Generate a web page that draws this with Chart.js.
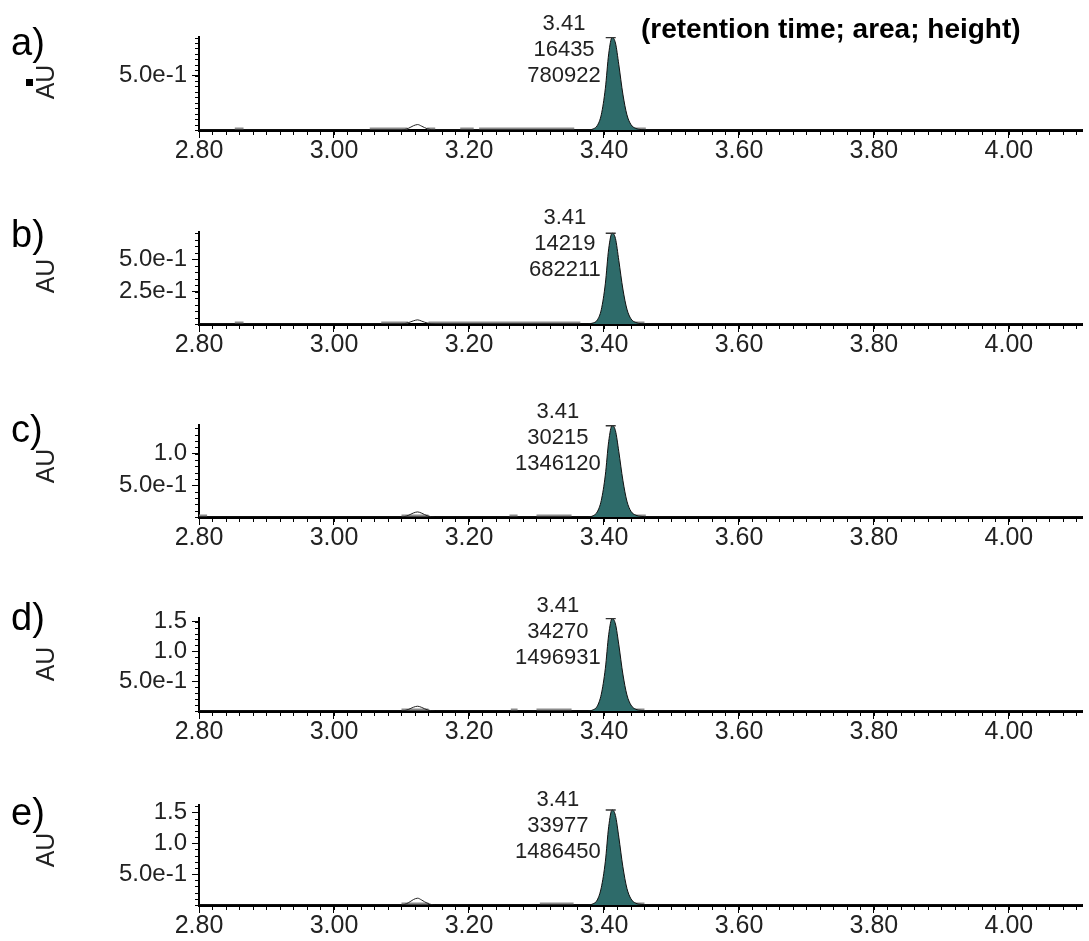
<!DOCTYPE html>
<html>
<head>
<meta charset="utf-8">
<script src="https://cdn.jsdelivr.net/npm/chart.js@4.4.1/dist/chart.umd.min.js"></script>
<style>
  body { margin: 0; background: #fff; width: 1089px; height: 941px; overflow: hidden; position: relative; }
  canvas { position: absolute; left: 0; }
</style>
</head>
<body>
<canvas id="pa" width="1089" height="194" style="top:0px"></canvas>
<canvas id="pb" width="1089" height="194" style="top:194px"></canvas>
<canvas id="pc" width="1089" height="194" style="top:388px"></canvas>
<canvas id="pd" width="1089" height="194" style="top:582px"></canvas>
<canvas id="pe" width="1089" height="165" style="top:776px"></canvas>
<script>
const FONT = 'Arial, "Liberation Sans", sans-serif';
const TEAL = '#2e6b6a';

// x axis (retention time, min)
const X_MIN = 2.80;
const X_MAX = 4.109;
const xTickValues = [2.8, 3.0, 3.2, 3.4, 3.6, 3.8, 4.0];
const xTickLabels = ['2.80', '3.00', '3.20', '3.40', '3.60', '3.80', '4.00'];

// peak annotations
const panelLetters = ['a)', 'b)', 'c)', 'd)', 'e)'];
const retTimes = ['3.41', '3.41', '3.41', '3.41', '3.41'];
const peakAreas = ['16435', '14219', '30215', '34270', '33977'];
const peakHeights = ['780922', '682211', '1346120', '1496931', '1486450'];

// y axes (AU)
const yTicksA = [0.5];
const yLabelsA = ['5.0e-1'];
const yTicksB = [0.25, 0.5];
const yLabelsB = ['2.5e-1', '5.0e-1'];
const yTicksC = [0.5, 1.0];
const yLabelsC = ['5.0e-1', '1.0'];
const yTicksD = [0.5, 1.0, 1.5];
const yLabelsD = ['5.0e-1', '1.0', '1.5'];
const yTicksE = [0.5, 1.0, 1.5];
const yLabelsE = ['5.0e-1', '1.0', '1.5'];
const yMaxes = [0.855, 0.71, 1.45, 1.56, 1.62];
const yMinorSteps = [0.05, 0.05, 0.1, 0.1, 0.1];

// main peak at 3.41 min
const peakTimes = [3.376, 3.384, 3.390, 3.396, 3.402, 3.407, 3.412, 3.417, 3.422, 3.428, 3.434, 3.440, 3.447, 3.455, 3.465];
const peakA = [0, 0.01, 0.04, 0.14, 0.38, 0.70, 0.85, 0.80, 0.60, 0.33, 0.14, 0.05, 0.015, 0.004, 0];
const peakB = [0, 0.008, 0.03, 0.11, 0.31, 0.58, 0.70, 0.66, 0.49, 0.27, 0.115, 0.04, 0.012, 0.003, 0];
const peakC = [0, 0.02, 0.08, 0.26, 0.66, 1.19, 1.44, 1.36, 1.03, 0.58, 0.25, 0.09, 0.03, 0.01, 0];
const peakD = [0, 0.02, 0.08, 0.28, 0.71, 1.28, 1.55, 1.46, 1.11, 0.62, 0.27, 0.10, 0.03, 0.01, 0];
const peakE = [0, 0.02, 0.08, 0.28, 0.70, 1.27, 1.54, 1.45, 1.10, 0.62, 0.27, 0.10, 0.03, 0.01, 0];

// small bump near 3.12 min
const bumpTimes = [3.100, 3.110, 3.118, 3.124, 3.130, 3.138, 3.150];
const bumpA = [0, 0.015, 0.04, 0.05, 0.035, 0.012, 0];
const bumpB = [0, 0.01, 0.025, 0.032, 0.022, 0.008, 0];
const bumpC = [0, 0.025, 0.065, 0.08, 0.06, 0.02, 0];
const bumpD = [0, 0.025, 0.065, 0.08, 0.06, 0.02, 0];
const bumpE = [0, 0.035, 0.09, 0.11, 0.08, 0.03, 0];

// grey integration baseline segments [start, end]
const segA = [[2.853, 2.866], [3.053, 3.109], [3.138, 3.150], [3.187, 3.207], [3.215, 3.356], [3.422, 3.462]];
const segB = [[2.853, 2.866], [3.070, 3.110], [3.140, 3.365], [3.425, 3.460]];
const segC = [[2.800, 2.812], [3.100, 3.140], [3.260, 3.272], [3.300, 3.352], [3.443, 3.462]];
const segD = [[3.100, 3.140], [3.262, 3.272], [3.300, 3.352], [3.440, 3.460]];
const segE = [[3.100, 3.140], [3.305, 3.355], [3.420, 3.460]];
const segLevels = [0.014, 0.012, 0.024, 0.026, 0.025];

const panels = [
  { id: 'pa', yTicks: yTicksA, yLabels: yLabelsA, peak: peakA, bump: bumpA, seg: segA, padTop: 37, base: 130, letterY: 45, auY: 82 },
  { id: 'pb', yTicks: yTicksB, yLabels: yLabelsB, peak: peakB, bump: bumpB, seg: segB, padTop: 38, base: 130, letterY: 43, auY: 82 },
  { id: 'pc', yTicks: yTicksC, yLabels: yLabelsC, peak: peakC, bump: bumpC, seg: segC, padTop: 37, base: 129, letterY: 44, auY: 78 },
  { id: 'pd', yTicks: yTicksD, yLabels: yLabelsD, peak: peakD, bump: bumpD, seg: segD, padTop: 36, base: 129, letterY: 38, auY: 82 },
  { id: 'pe', yTicks: yTicksE, yLabels: yLabelsE, peak: peakE, bump: bumpE, seg: segE, padTop: 29, base: 129, letterY: 39, auY: 74 }
];

const minorTicks = {
  id: 'minorTicks',
  afterDraw(chart, args, opts) {
    const { ctx, chartArea, scales: { x, y } } = chart;
    ctx.save();
    ctx.strokeStyle = '#000';
    ctx.lineWidth = 1;
    ctx.beginPath();
    for (let i = 0; ; i++) {
      const v = x.min + i * opts.xStep;
      if (v > x.max) break;
      const px = Math.round(x.getPixelForValue(v)) + 0.5;
      ctx.moveTo(px, chartArea.bottom);
      ctx.lineTo(px, chartArea.bottom + 5);
    }
    for (let i = 0; ; i++) {
      const v = y.min + i * opts.yStep;
      if (v > y.max + 1e-9) break;
      const py = Math.round(y.getPixelForValue(v)) + 0.5;
      ctx.moveTo(chartArea.left, py);
      ctx.lineTo(chartArea.left - 4, py);
    }
    ctx.stroke();
    ctx.restore();
  }
};

const panelText = {
  id: 'panelText',
  afterDraw(chart, args, opts) {
    const { ctx, scales: { x } } = chart;
    ctx.save();
    ctx.fillStyle = '#000';
    ctx.textBaseline = 'middle';
    ctx.textAlign = 'left';
    ctx.font = '38px ' + FONT;
    ctx.fillText(opts.letter, 11, opts.letterY);

    ctx.save();
    ctx.translate(47, opts.auY);
    ctx.rotate(-Math.PI / 2);
    ctx.textAlign = 'center';
    ctx.font = '25px ' + FONT;
    ctx.fillStyle = '#222';
    ctx.fillText('AU', 0, 0);
    ctx.restore();

    ctx.font = '22px ' + FONT;
    ctx.fillStyle = '#222';
    ctx.textAlign = 'center';
    const right = x.getPixelForValue(3.41) - 10;
    const maxW = Math.max(...opts.lines.map(t => ctx.measureText(t).width));
    const cx = right - maxW / 2;
    const ys = [24, 50, 76];
    opts.lines.forEach((t, k) => ctx.fillText(t, cx, ys[k]));

    if (opts.title) {
      ctx.textAlign = 'left';
      ctx.fillStyle = '#000';
      ctx.font = 'bold 28px ' + FONT;
      ctx.fillText(opts.title, 641, 30);
    }
    if (opts.mark) {
      ctx.fillRect(26, 79, 7, 7);
    }
    ctx.restore();
  }
};

function segData(seg, level) {
  const out = [];
  seg.forEach(s => {
    out.push({ x: s[0], y: level }, { x: s[1], y: level }, { x: s[1], y: null });
  });
  return out;
}

function renderPanel(p, i) {
  const canvas = document.getElementById(p.id);
  const H = canvas.height;
  const peakPts = peakTimes.map((t, k) => ({ x: t, y: p.peak[k] }));
  const trace = [{ x: X_MIN, y: 0 }]
    .concat(bumpTimes.map((t, k) => ({ x: t, y: p.bump[k] })))
    .concat([{ x: X_MAX, y: 0 }]);
  const apex = p.peak[peakTimes.indexOf(3.412)];

  new Chart(canvas, {
    type: 'line',
    data: {
      datasets: [
        {
          data: [{ x: 3.41, y: apex }],
          showLine: false,
          pointStyle: 'line',
          pointRadius: 5,
          borderColor: '#333',
          borderWidth: 1.5,
          order: 0
        },
        {
          data: peakPts,
          fill: 'origin',
          backgroundColor: TEAL,
          borderColor: '#111',
          borderWidth: 1,
          pointRadius: 0,
          cubicInterpolationMode: 'monotone',
          order: 1
        },
        {
          data: trace,
          fill: false,
          borderColor: '#222',
          borderWidth: 1,
          pointRadius: 0,
          cubicInterpolationMode: 'monotone',
          order: 2
        },
        {
          data: segData(p.seg, segLevels[i]),
          fill: false,
          borderColor: '#8c8c8c',
          borderWidth: 2,
          pointRadius: 0,
          spanGaps: false,
          order: 3
        }
      ]
    },
    options: {
      responsive: false,
      animation: false,
      layout: { padding: { top: p.padTop, left: 0, right: 0, bottom: 0 } },
      plugins: {
        legend: { display: false },
        tooltip: { enabled: false },
        minorTicks: { xStep: 0.02, yStep: yMinorSteps[i] },
        panelText: {
          letter: panelLetters[i],
          letterY: p.letterY,
          auY: p.auY,
          lines: [retTimes[i], peakAreas[i], peakHeights[i]],
          title: i === 0 ? '(retention time; area; height)' : null,
          mark: i === 0
        }
      },
      scales: {
        x: {
          type: 'linear',
          min: X_MIN,
          max: X_MAX,
          afterBuildTicks: scale => { scale.ticks = xTickValues.map(v => ({ value: v })); },
          afterFit: scale => { scale.height = H - p.base; },
          ticks: {
            callback: (v, idx) => xTickLabels[idx],
            color: '#222',
            font: { family: FONT, size: 25 },
            padding: -2,
            maxRotation: 0,
            autoSkip: false
          },
          grid: { drawOnChartArea: false, tickLength: 8, color: '#000', tickWidth: 1 },
          border: { display: true, color: '#000', width: 3 }
        },
        y: {
          type: 'linear',
          min: 0,
          max: yMaxes[i],
          afterBuildTicks: scale => { scale.ticks = p.yTicks.map(v => ({ value: v })); },
          afterFit: scale => { scale.width = 199; },
          ticks: {
            callback: (v, idx) => p.yLabels[idx],
            color: '#222',
            font: { family: FONT, size: 24 },
            padding: 5,
            autoSkip: false
          },
          grid: { drawOnChartArea: false, tickLength: 7, color: '#000', tickWidth: 1 },
          border: { display: true, color: '#000', width: 2 }
        }
      }
    },
    plugins: [minorTicks, panelText]
  });
}

panels.forEach(renderPanel);
</script>
</body>
</html>
